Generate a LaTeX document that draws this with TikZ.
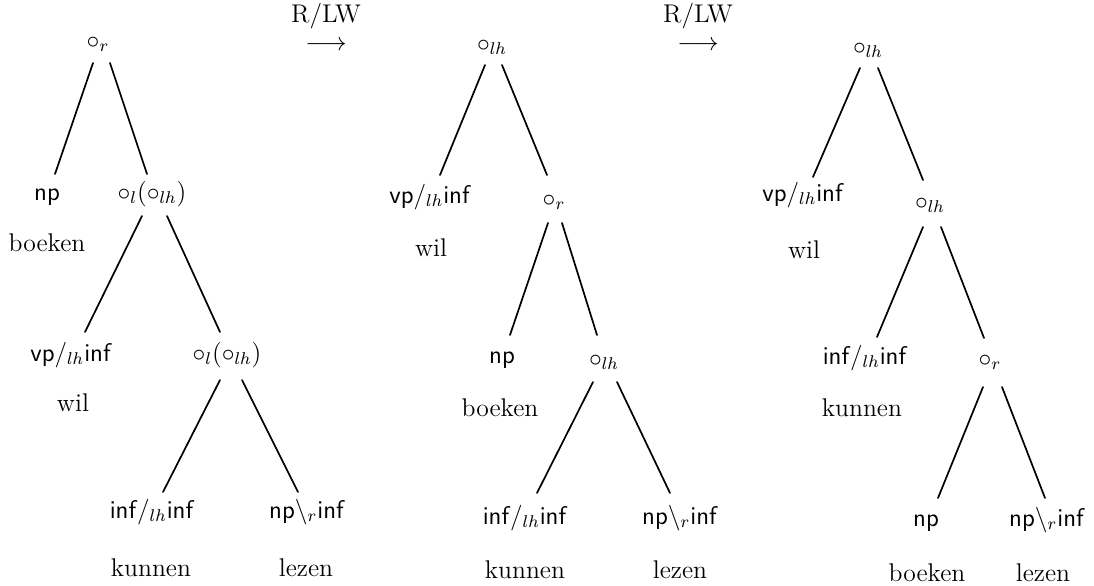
\documentclass[tikz,border=0pt]{standalone}
\usetikzlibrary{calc}
\newcommand{\ctg}[1]{\textsf{#1}}
\begin{document}
\begin{tikzpicture}[x=0.469pt,y=-0.469pt,
  lab/.style={inner sep=0pt, anchor=base, font=\fontsize{12}{14}\selectfont},
  rulelab/.style={inner sep=0pt, anchor=north, align=center, font=\fontsize{12}{14}\selectfont},
  edge/.style={line width=0.8pt, line cap=round},
]
\useasboundingbox (0,0) rectangle (1094,585);
% rule labels
\node[rulelab] (rl1) at (326,3) {R/LW\\[-1pt]$\longrightarrow$};
\node[rulelab] (rl2) at (698,3) {R/LW\\[-1pt]$\longrightarrow$};
% tree 1
\node[lab] (t1r) at (98,48) {$\circ_r$};
\node[lab] (t1a) at (47,200) {\ctg{np}};
\node[lab] (t1aw) at (47,251) {boeken};
\node[lab] (t1b) at (152,200) {$\circ_l(\circ_{lh})$};
\node[lab] (t1c) at (71,361) {\ctg{vp}$/_{lh}$\ctg{inf}};
\node[lab] (t1cw) at (73,411) {wil};
\node[lab] (t1d) at (227,361) {$\circ_l(\circ_{lh})$};
\node[lab] (t1e) at (152,518) {\ctg{inf}$/_{lh}$\ctg{inf}};
\node[lab] (t1ew) at (151,576) {kunnen};
\node[lab] (t1f) at (307,518) {\ctg{np}$\backslash_r$\ctg{inf}};
\node[lab] (t1fw) at (306,576) {lezen};
\draw[edge] ($(t1r.base)+(-5,15)$) -- ($(t1a.base)+(8,-26)$);
\draw[edge] ($(t1r.base)+(12,15)$) -- ($(t1b.base)+(-5,-26)$);
\draw[edge] ($(t1b.base)+(-10,16)$) -- ($(t1c.base)+(14,-29)$);
\draw[edge] ($(t1b.base)+(15,16)$) -- ($(t1d.base)+(-7,-29)$);
\draw[edge] ($(t1d.base)+(-7,19)$) -- ($(t1e.base)+(11,-26)$);
\draw[edge] ($(t1d.base)+(15,19)$) -- ($(t1f.base)+(-9,-26)$);
% tree 2
\node[lab] (t2r) at (492,51) {$\circ_{lh}$};
\node[lab] (t2a) at (430,203) {\ctg{vp}$/_{lh}$\ctg{inf}};
\node[lab] (t2aw) at (431,256) {wil};
\node[lab] (t2b) at (554,206) {$\circ_r$};
\node[lab] (t2c) at (502,363) {\ctg{np}};
\node[lab] (t2cw) at (500,416) {boeken};
\node[lab] (t2d) at (604,366) {$\circ_{lh}$};
\node[lab] (t2e) at (525,524) {\ctg{inf}$/_{lh}$\ctg{inf}};
\node[lab] (t2ew) at (525,578) {kunnen};
\node[lab] (t2f) at (680,524) {\ctg{np}$\backslash_r$\ctg{inf}};
\node[lab] (t2fw) at (680,578) {lezen};
\draw[edge] ($(t2r.base)+(-7,14)$) -- ($(t2a.base)+(10,-28)$);
\draw[edge] ($(t2r.base)+(10,14)$) -- ($(t2b.base)+(-7,-31)$);
\draw[edge] ($(t2b.base)+(-6,17)$) -- ($(t2c.base)+(8,-28)$);
\draw[edge] ($(t2b.base)+(8,17)$) -- ($(t2d.base)+(-7,-31)$);
\draw[edge] ($(t2d.base)+(-11,16)$) -- ($(t2e.base)+(12,-31)$);
\draw[edge] ($(t2d.base)+(13,16)$) -- ($(t2f.base)+(-10,-31)$);
% tree 3
\node[lab] (t3r) at (868,54) {$\circ_{lh}$};
\node[lab] (t3a) at (803,201) {\ctg{vp}$/_{lh}$\ctg{inf}};
\node[lab] (t3aw) at (804,258) {wil};
\node[lab] (t3b) at (930,209) {$\circ_{lh}$};
\node[lab] (t3c) at (865,364) {\ctg{inf}$/_{lh}$\ctg{inf}};
\node[lab] (t3cw) at (862,416) {kunnen};
\node[lab] (t3d) at (990,366) {$\circ_r$};
\node[lab] (t3e) at (926,526) {\ctg{np}};
\node[lab] (t3ew) at (927,581) {boeken};
\node[lab] (t3f) at (1047,526) {\ctg{np}$\backslash_r$\ctg{inf}};
\node[lab] (t3fw) at (1043,581) {lezen};
\draw[edge] ($(t3r.base)+(-8,14)$) -- ($(t3a.base)+(10,-24)$);
\draw[edge] ($(t3r.base)+(10,14)$) -- ($(t3b.base)+(-7,-29)$);
\draw[edge] ($(t3b.base)+(-7,18)$) -- ($(t3c.base)+(12,-27)$);
\draw[edge] ($(t3b.base)+(11,18)$) -- ($(t3d.base)+(-6,-28)$);
\draw[edge] ($(t3d.base)+(-7,21)$) -- ($(t3e.base)+(12,-28)$);
\draw[edge] ($(t3d.base)+(12,21)$) -- ($(t3f.base)+(-2,-28)$);
\end{tikzpicture}
\end{document}
